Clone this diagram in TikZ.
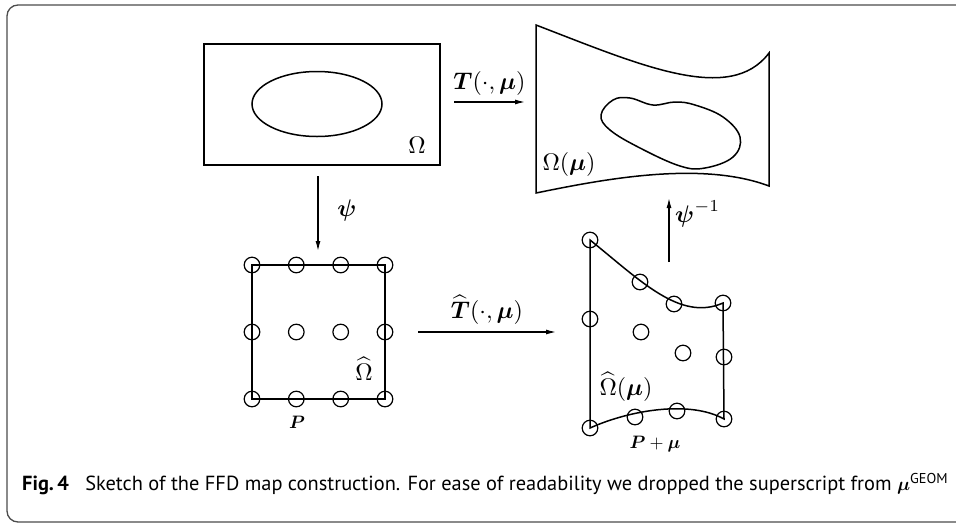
\documentclass[tikz,border=0pt]{standalone}
\usepackage{amsmath,amssymb,graphicx}
\usepackage{fontspec}
\setmainfont{PT Sans}
\usetikzlibrary{arrows.meta}
\newcommand{\biglbl}[1]{\scalebox{2.4}{$#1$}}
\newcommand{\smalllbl}[1]{\scalebox{1.8}{$#1$}}
\tikzset{
  shape line/.style={line width=1.5pt, black},
  cp/.style={line width=1.2pt, black},
  maparrow/.style={line width=1.2pt, -{Latex[length=10pt,width=5pt]}},
  lbl/.style={inner sep=0pt},
}
\newcommand{\cpr}{7.8}
\begin{document}
\begin{tikzpicture}[x=1pt,y=-1pt]
\useasboundingbox (0,0) rectangle (956,523);
% frame
\begin{scope}
\clip (0,0) rectangle (956,523);
\draw[line width=1.3pt, black!70, rounded corners=11pt] (980,5) -- (7,5) -- (7,522) -- (980,522);
\end{scope}

% top-left domain
\node[shape line, draw, rectangle, minimum width=236pt, minimum height=121pt, inner sep=0pt] (om) at (322,104.5) {};
\draw[shape line] (317,104) ellipse [x radius=65, y radius=32.5];
\node[lbl] (omlab) at (417,145) {\biglbl{\Omega}};

% deformed domain
\coordinate (dTL) at (536,25);
\coordinate (dTR) at (769,53);
\coordinate (dBR) at (769,186);
\coordinate (dBL) at (536,193);
\draw[shape line] (dTL) .. controls (640,65) and (730,105) .. (dTR) -- (dBR)
   .. controls (700,160) and (600,180) .. (dBL) -- cycle;
\draw[shape line] plot[smooth cycle, tension=0.65] coordinates {(601,115) (613,100) (630,98) (653,105) (675,102) (695,105) (723,117) (740,137) (733,157) (705,168) (680,166) (640,148) (610,130)};
\node[lbl] (omulab) at (569,164) {\biglbl{\Omega(\boldsymbol{\mu})}};

% arrow T
\coordinate (Ta) at (454,102);
\coordinate (Tb) at (525,102);
\draw[maparrow] (Ta) -- (Tb) node[lbl, midway, above=6pt] (Tlab) {\biglbl{\boldsymbol{T}(\cdot,\boldsymbol{\mu})}};

% arrow psi
\coordinate (pa) at (318,176);
\coordinate (pb) at (318,251);
\draw[maparrow] (pa) -- (pb);
\node[lbl] (psilab) at (347,210) {\biglbl{\boldsymbol{\psi}}};

% reference square
\foreach \j/\y in {0/265,1/332,2/399}{
  \foreach \i/\x in {0/252,1/296.3,2/340.7,3/385}{
    \coordinate (s\i\j) at (\x,\y);
    \draw[cp] (s\i\j) circle (\cpr);
  }
}
\draw[shape line] (s00) -- (s30) -- (s32) -- (s02) -- cycle;
\node[lbl] (ohlab) at (364,369) {\biglbl{\widehat{\Omega}}};
\node[lbl] (Plab) at (297,422) {\smalllbl{\boldsymbol{P}}};

% arrow That
\coordinate (ha) at (418,332);
\coordinate (hb) at (556,332);
\draw[maparrow] (ha) -- (hb) node[lbl, midway, above=7pt] (Thlab) {\biglbl{\widehat{\boldsymbol{T}}(\cdot,\boldsymbol{\mu})}};

% deformed lattice
\coordinate (q00) at (590,240);
\coordinate (q10) at (640,282);
\coordinate (q20) at (674,304);
\coordinate (q30) at (723,303);
\coordinate (q01) at (590,319);
\coordinate (q11) at (641,332);
\coordinate (q21) at (683,353);
\coordinate (q31) at (724,357);
\coordinate (q02) at (590,428);
\coordinate (q12) at (635,417);
\coordinate (q22) at (677,411);
\coordinate (q32) at (724,419);
\foreach \n in {q00,q10,q20,q30,q01,q11,q21,q31,q02,q12,q22,q32}{
  \draw[cp] (\n) circle (\cpr);
}
\draw[shape line] (q00) .. controls (640,280) and (680,322) .. (q30) -- (q32)
   .. controls (690,400) and (630,410) .. (q02) -- cycle;
\node[lbl] (ohmlab) at (626,387) {\biglbl{\widehat{\Omega}(\boldsymbol{\mu})}};
\node[lbl] (Pmlab) at (655,444) {\smalllbl{\boldsymbol{P}+\boldsymbol{\mu}}};

% arrow psi^-1
\coordinate (ia) at (669,262);
\coordinate (ib) at (669,198);
\draw[maparrow] (ia) -- (ib);
\node[lbl, anchor=west] (pinvlab) at (675,214) {\biglbl{\boldsymbol{\psi}^{-1}}};

% caption
\node[anchor=base west, inner sep=0pt] (cap) at (22,490) {\resizebox{926pt}{!}{\fontsize{19}{22}\selectfont\textbf{Fig.\,4}\hspace{0.8em}Sketch of the FFD map construction. For ease of readability we dropped the superscript from $\boldsymbol{\mu}^{\text{GEOM}}$}};
\end{tikzpicture}
\end{document}
